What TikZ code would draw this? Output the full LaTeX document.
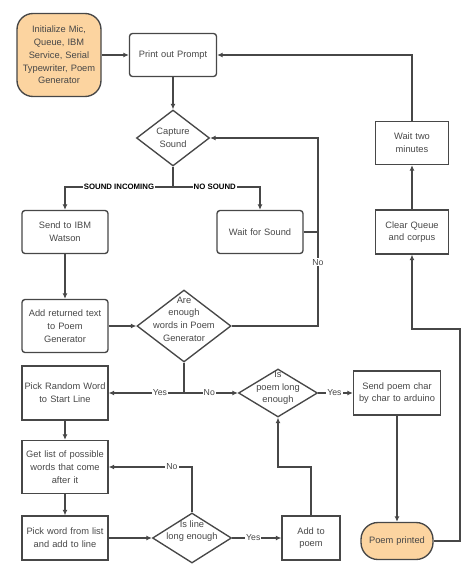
\documentclass[tikz,border=0pt]{standalone}
\usepackage{fontspec}
\setmainfont{Liberation Sans}
\usetikzlibrary{shapes.geometric,arrows.meta}

\definecolor{linec}{HTML}{474747}
\definecolor{txt}{HTML}{474747}
\definecolor{peach}{HTML}{FCD4A0}

\begin{document}
\begin{tikzpicture}[x=1pt,y=-1pt,
    box/.style={draw=linec,line width=1.35pt,text=txt,align=center,inner sep=2pt,
        minimum height=43pt,font=\fontsize{9.3}{12.7}\selectfont},
    rbox/.style={box,rounded corners=3pt},
    term/.style={box,fill=peach},
    decision/.style={draw=linec,line width=1.35pt,diamond,inner sep=0pt},
    dtext/.style={text=txt,align=center,font=\fontsize{9.3}{12.7}\selectfont},
    arr/.style={draw=linec,line width=1.35pt,-{Latex[length=5.5pt,width=5pt]}},
    line/.style={draw=linec,line width=1.35pt},
    lbl/.style={fill=white,inner sep=1pt,text=txt,font=\fontsize{8.7}{10}\selectfont},
    blbl/.style={fill=white,inner sep=1pt,text=black,font=\fontsize{7.8}{9}\bfseries}]

\useasboundingbox (0,0) rectangle (474,578);

% left column
\node[term,rounded corners=16pt,text width=80pt,minimum height=83pt] (init) at (59,55)
    {Initialize Mic,\\Queue, IBM\\Service, Serial\\Typewriter, Poem\\Generator};
\node[rbox,text width=83pt] (prompt) at (173,55) {Print out Prompt};
\node[decision,minimum width=73pt,minimum height=56pt,
    label={[dtext]center:Capture\\Sound}] (capture) at (173,138) {};
\node[rbox,text width=82pt] (ibm) at (65,232) {Send to IBM\\Watson};
\node[rbox,text width=82pt] (waitsound) at (260,232) {Wait for Sound};
\node[rbox,text width=82pt,minimum height=53pt] (addtext) at (65,326)
    {Add returned text\\to Poem\\Generator};
\node[decision,minimum width=94pt,minimum height=72pt,
    label={[dtext,yshift=7pt]center:Are\\enough\\words in Poem\\Generator}] (enough) at (184,326) {};
\node[box,text width=82pt,minimum height=54pt] (pickrandom) at (65,393)
    {Pick Random Word\\to Start Line};
\node[box,text width=82pt,minimum height=53pt] (getlist) at (65,467)
    {Get list of possible\\words that come\\after it};
\node[box,text width=82pt,minimum height=44pt] (pickword) at (65,538)
    {Pick word from list\\and add to line};
\node[decision,minimum width=79pt,minimum height=50pt,
    label={[dtext,yshift=7pt]center:Is line\\long enough}] (linelong) at (192,538) {};
\node[box,text width=54pt,minimum height=44pt] (addpoem) at (311,538) {Add to\\poem};
\node[decision,minimum width=79pt,minimum height=48pt,
    label={[dtext,yshift=5pt]center:Is\\poem long\\enough}] (poemlong) at (278,393) {};

% right column
\node[box,text width=83pt,minimum height=44pt] (sendpoem) at (397,393)
    {Send poem char\\by char to arduino};
\node[term,rounded corners=17pt,text width=68pt,minimum height=37pt] (printed) at (397,541)
    {Poem printed};
\node[box,text width=69pt,minimum height=44pt] (clear) at (412,232) {Clear Queue\\and corpus};
\node[box,text width=69pt] (waittwo) at (412,143) {Wait two\\minutes};

\coordinate (split) at (173,187);
\coordinate (loopx) at (318,138);
\coordinate (yesno) at (184,393);
\coordinate (joint) at (278,467);
\coordinate (backup) at (460,329);

\draw[arr] (init) -- (prompt);
\draw[arr] (prompt) -- (capture);
\draw[line] (capture.south) -- (split);
\draw[arr] (split) -| node[blbl,pos=0.25] {SOUND INCOMING} (ibm);
\draw[arr] (split) -| node[blbl,pos=0.24] {NO SOUND} (waitsound);
\draw[arr] (waitsound.east) -| (loopx) -- (capture.east);
\draw[line] (enough.east) -| node[lbl,pos=0.67] {No} (loopx);
\draw[arr] (ibm) -- (addtext);
\draw[arr] (addtext) -- (enough);
\draw[line] (enough.south) -- (yesno);
\draw[arr] (yesno) -- node[lbl,pos=0.32] {Yes} (pickrandom);
\draw[arr] (yesno) -- node[lbl,pos=0.47] {No} (poemlong);
\draw[arr] (pickrandom) -- (getlist);
\draw[arr] (getlist) -- (pickword);
\draw[arr] (pickword) -- (linelong);
\draw[arr] (linelong.north) |- node[lbl,pos=0.62] {No} (getlist.east);
\draw[arr] (linelong) -- node[lbl,pos=0.43] {Yes} (addpoem);
\draw[arr] (addpoem.north) |- (joint) -- (poemlong.south);
\draw[arr] (poemlong) -- node[lbl,pos=0.47] {Yes} (sendpoem);
\draw[arr] (sendpoem) -- (printed);
\draw[arr] (printed.east) -| (backup) -| (clear.south);
\draw[arr] (clear) -- (waittwo);
\draw[arr] (waittwo.north) |- (prompt.east);

\end{tikzpicture}
\end{document}
